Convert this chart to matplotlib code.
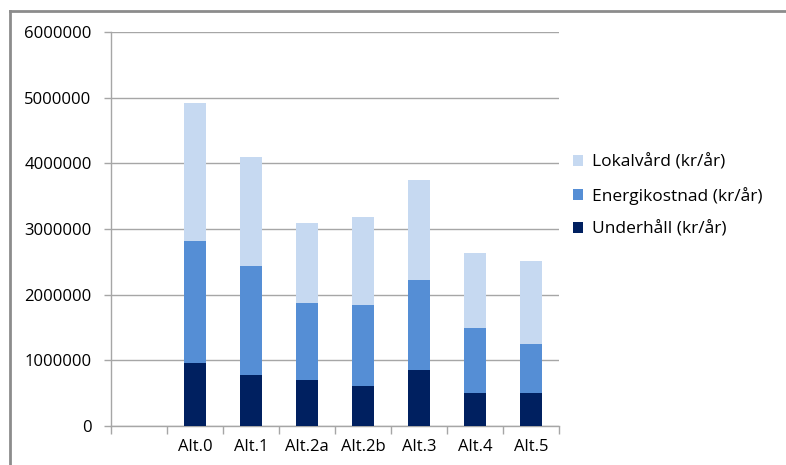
import matplotlib
matplotlib.use("Agg")
import matplotlib.pyplot as plt
import numpy as np
from matplotlib.ticker import FixedLocator
from matplotlib.lines import Line2D

categories = ['', 'Alt.0', 'Alt.1', 'Alt.2a', 'Alt.2b', 'Alt.3', 'Alt.4', 'Alt.5']
underhall = [0, 955000, 780000, 700000, 610000, 860000, 500000, 500000]
energikostnad = [0, 1865000, 1660000, 1170000, 1230000, 1360000, 990000, 750000]
lokalvard = [0, 2100000, 1650000, 1220000, 1350000, 1530000, 1140000, 1260000]
series_labels = ['Underhåll (kr/år)', 'Energikostnad (kr/år)', 'Lokalvård (kr/år)']
colors = ['#002060', '#558ED5', '#C6D9F1']
yticks = [0, 1000000, 2000000, 3000000, 4000000, 5000000, 6000000]

plt.rcParams['font.family'] = ['Open Sans', 'DejaVu Sans']

fig = plt.figure(figsize=(7.86, 4.65), dpi=100)
ax = fig.add_axes([111/786, 1-426/465, (559-111)/786, (426-32)/465])

x = np.arange(len(categories))
u = np.array(underhall, dtype=float)
e = np.array(energikostnad, dtype=float)
l = np.array(lokalvard, dtype=float)
w = 0.4
bars = []
bars.append(ax.bar(x, u, width=w, color=colors[0], linewidth=0, zorder=3))
bars.append(ax.bar(x, e, width=w, bottom=u, color=colors[1], linewidth=0, zorder=3))
bars.append(ax.bar(x, l, width=w, bottom=u+e, color=colors[2], linewidth=0, zorder=3))

ax.set_xlim(-0.5, len(categories)-0.5)
ax.set_ylim(0, 6000000)
ax.set_yticks(yticks)
ax.set_yticklabels([str(v) for v in yticks])
ax.yaxis.grid(True, color='#A6A6A6', linewidth=1.0, zorder=0)
ax.set_axisbelow(True)

ax.set_xticks(x)
ax.set_xticklabels(categories)
ax.xaxis.set_minor_locator(FixedLocator(np.arange(len(categories)+1) - 0.5))
ax.tick_params(axis='x', which='major', length=0, pad=9, labelsize=12, colors='#000000')
ax.tick_params(axis='x', which='minor', length=6, width=1, color='#A6A6A6')
ax.tick_params(axis='y', which='major', length=5, width=1, color='#A6A6A6', pad=9, labelsize=12)

for s in ['top', 'right']:
    ax.spines[s].set_visible(False)
for s in ['left', 'bottom']:
    ax.spines[s].set_color('#A6A6A6')
    ax.spines[s].set_linewidth(1.0)

handles = [bars[2], bars[1], bars[0]]
labels = [series_labels[2], series_labels[1], series_labels[0]]
fig.legend(handles, labels, loc='center left', bbox_to_anchor=(557/786, 1-196/465),
           frameon=False, fontsize=12.5, handlelength=0.6, handleheight=0.6,
           handletextpad=0.5, labelspacing=0.95)

# outer chart frame (top and left)
fig.add_artist(Line2D([10/786, 10/786], [0, 1-11/465], transform=fig.transFigure,
                      color='#8C8C8C', linewidth=2))
fig.add_artist(Line2D([10/786, 1], [1-11/465, 1-11/465], transform=fig.transFigure,
                      color='#8C8C8C', linewidth=2))

fig.savefig('out.png', dpi=100)
